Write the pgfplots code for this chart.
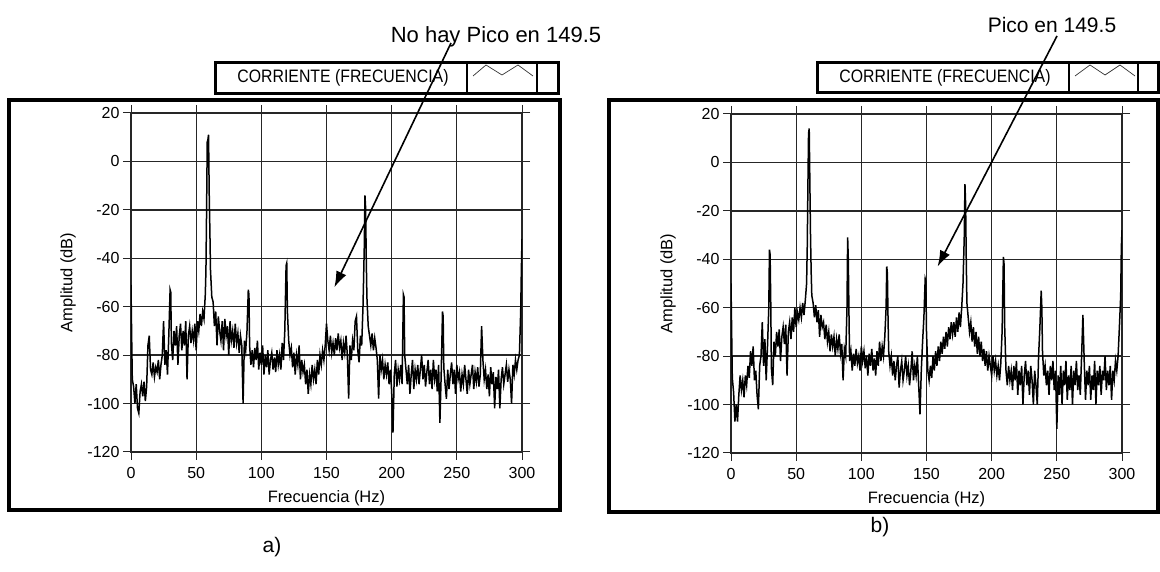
\documentclass[border=0pt]{standalone}
\usepackage{fontspec}
\setmainfont{Liberation Sans}
\newfontfamily\lvfont[FakeStretch=0.88]{Liberation Sans}
\usepackage{pgfplots}
\pgfplotsset{compat=1.18}
\usetikzlibrary{arrows.meta}

\pgfplotsset{
  lvspec/.style={
    scale only axis, width=391pt, height=339pt,
    anchor=south west,
    xmin=0, xmax=300, ymin=-120, ymax=20,
    xtick={0,50,...,300}, ytick={-120,-100,...,20},
    grid=major,
    major grid style={black!85, line width=1.3pt},
    axis line style={black!85, line width=1.3pt},
    tick align=outside, major tick length=8pt,
    tick style={black!85, line width=1pt},
    /pgf/number format/assume math mode=true,
    ticklabel style={font=\fontsize{16}{18}\selectfont},
    xticklabel style={yshift=-4pt},
    xlabel={Frecuencia (Hz)}, ylabel={Amplitud (dB)},
    every axis x label/.style={at={(axis description cs:0.5,-0.136)}, anchor=center,
      font=\fontsize{16.5}{18}\selectfont},
    every axis y label/.style={at={(axis description cs:-0.161,0.5)}, rotate=90, anchor=center,
      font=\fontsize{16.5}{18}\selectfont},
  },
  spec/.style={black, line width=1.5pt, sharp plot, mark=none},
}

\begin{document}
\begin{tikzpicture}
\path[use as bounding box] (0pt,0pt) rectangle (1160pt,572pt);

% ---------- panel a ----------
\draw[line width=3.5pt] (9pt,62pt) rectangle (560pt,472pt);
\begin{axis}[lvspec, at={(131pt,120pt)}]
\addplot[spec] coordinates {
(0,-51)(0.5,-72)(1,-90)(2,-93)(3,-100)(4,-92)(5,-102)(6,-104)(7,-95)(8,-92)(9,-97)
(10,-91)(11,-99)(12,-93)(13,-76)(14,-72)(15,-86)(16,-88)(17,-83)(18,-89)(19,-85)
(20,-87)(21,-82)(22,-90)(23,-84)(24,-80)(25,-66)(26,-84)(27,-78)(28,-88)(29,-72)
(30,-53)(30.5,-54)(31,-75)(32,-82)(33,-70)(34,-76)(35,-68)(36,-84)(37,-72)(38,-67)(39,-78)
(40,-70)(41,-76)(42,-66)(43,-90)(44,-72)(45,-68)(46,-75)(47,-70)(48,-74)(49,-67)
(50,-78)(51,-66)(52,-70)(53,-63)(54,-68)(55,-62)(56,-65)(57,-55)(57.5,-45)(58,-20)
(58.5,8)(59,9)(59.5,11)(60,-13)(60.5,-28)(61,-45)(62,-56)(63,-58)(64,-68)(65,-62)
(66,-76)(67,-64)(68,-70)(69,-74)(70,-66)(71,-78)(72,-65)(73,-72)(74,-68)(75,-80)
(76,-66)(77,-74)(78,-70)(79,-77)(80,-67)(81,-75)(82,-71)(83,-79)(84,-72)(85,-76)
(86,-100)(87,-74)(88,-78)(89,-70)(90,-53)(90.5,-55)(91,-76)(92,-84)(93,-78)(94,-85)
(95,-77)(96,-82)(97,-74)(98,-86)(99,-79)(100,-84)(101,-76)(102,-88)(103,-80)(104,-85)
(105,-78)(106,-88)(107,-82)(108,-79)(109,-86)(110,-81)(111,-87)(112,-78)(113,-84)(114,-80)
(115,-86)(116,-75)(117,-82)(118,-70)(119,-43)(119.5,-42)(120,-62)(121,-74)(122,-80)(123,-77)
(124,-85)(125,-79)(126,-88)(127,-80)(128,-84)(129,-76)(130,-90)(131,-82)(132,-87)(133,-84)
(134,-92)(135,-86)(136,-96)(137,-88)(138,-92)(139,-84)(140,-90)(141,-86)(142,-92)(143,-82)
(144,-88)(145,-80)(146,-84)(147,-78)(148,-82)(149,-76)(150,-67)(151,-74)(152,-78)(153,-72)
(154,-79)(155,-75)(156,-80)(157,-73)(158,-78)(159,-71)(160,-77)(161,-74)(162,-82)(163,-75)
(164,-79)(165,-72)(166,-80)(167,-98)(168,-76)(169,-82)(170,-74)(171,-78)(172,-66)(173,-64)
(174,-78)(175,-83)(176,-72)(177,-76)(178,-60)(179,-35)(179.5,-14)(180,-19)(180.5,-40)(181,-56)
(182,-68)(183,-72)(184,-76)(185,-71)(186,-78)(187,-73)(188,-77)(189,-82)(190,-98)(191,-80)
(192,-86)(193,-82)(194,-90)(195,-84)(196,-88)(197,-83)(198,-92)(199,-86)(200,-95)(201,-112)
(202,-88)(203,-82)(204,-93)(205,-86)(206,-90)(207,-84)(208,-92)(209,-55)(209.5,-56)(210,-80)
(211,-86)(212,-92)(213,-84)(214,-96)(215,-88)(216,-82)(217,-94)(218,-86)(219,-90)(220,-84)
(221,-92)(222,-86)(223,-80)(224,-90)(225,-84)(226,-93)(227,-87)(228,-82)(229,-92)(230,-86)
(231,-94)(232,-82)(233,-90)(234,-86)(235,-95)(236,-84)(237,-108)(238,-88)(239,-62)(239.5,-64)
(240,-85)(241,-92)(242,-98)(243,-86)(244,-94)(245,-88)(246,-83)(247,-92)(248,-86)(249,-96)
(250,-84)(251,-90)(252,-87)(253,-95)(254,-88)(255,-92)(256,-84)(257,-90)(258,-96)(259,-86)
(260,-92)(261,-88)(262,-84)(263,-94)(264,-87)(265,-91)(266,-85)(267,-93)(268,-88)(269,-68)
(270,-82)(271,-90)(272,-86)(273,-94)(274,-88)(275,-97)(276,-85)(277,-92)(278,-87)(279,-102)
(280,-89)(281,-94)(282,-86)(283,-102)(284,-90)(285,-85)(286,-92)(287,-88)(288,-84)(289,-91)
(290,-86)(291,-90)(292,-100)(293,-84)(294,-88)(295,-82)(296,-86)(297,-82)(298,-80)(299,-62)
(299.5,-45)(300,-32)
};
\coordinate (tipA) at (axis cs:156,-52);
\end{axis}

% legend a
\draw[line width=3pt] (215pt,478pt) rectangle (558pt,509pt);
\draw[line width=2pt] (467pt,478pt) -- (467pt,509pt);
\draw[line width=2pt] (537pt,478pt) -- (537pt,509pt);
\node at (343pt,494pt) {\lvfont\fontsize{18}{20}\selectfont CORRIENTE (FRECUENCIA)};
\draw[line width=0.7pt, black!80] (473pt,496pt) -- (486pt,507pt) -- (502pt,497pt) -- (518pt,507pt) -- (533pt,496pt);

% annotation a
\node at (496pt,535pt) {\fontsize{22}{24}\selectfont No hay Pico en 149.5};
\draw[line width=1.6pt, -{Latex[length=16pt,width=11pt]}] (451pt,529pt) -- (tipA);
\node at (272pt,25pt) {\fontsize{21}{24}\selectfont a)};

% ---------- panel b ----------
\draw[line width=3.5pt] (609pt,60pt) rectangle (1158pt,472pt);
\begin{axis}[lvspec, at={(731pt,119pt)}]
\addplot[spec] coordinates {
(0,-50)(0.5,-70)(1,-89)(2,-95)(3,-107)(4,-100)(5,-107)(6,-96)(7,-88)(8,-94)(9,-90)
(10,-97)(11,-88)(12,-92)(13,-84)(14,-89)(15,-78)(16,-84)(17,-76)(18,-90)(19,-86)
(20,-96)(21,-102)(22,-84)(23,-80)(24,-66)(25,-84)(26,-73)(27,-90)(28,-76)(29,-60)
(29.5,-36)(30,-38)(30.5,-58)(31,-85)(32,-92)(33,-74)(34,-80)(35,-70)(36,-76)(37,-69)
(38,-82)(39,-72)(40,-68)(41,-75)(42,-67)(43,-88)(44,-70)(45,-66)(46,-73)(47,-64)
(48,-70)(49,-60)(50,-68)(51,-62)(52,-65)(53,-60)(54,-64)(55,-58)(56,-63)(57,-57)
(58,-50)(58.5,-35)(59,-10)(59.5,12)(60,14)(60.5,-8)(61,-30)(61.5,-45)(62,-55)(63,-58)
(64,-64)(65,-59)(66,-66)(67,-61)(68,-72)(69,-63)(70,-68)(71,-66)(72,-73)(73,-67)
(74,-74)(75,-70)(76,-78)(77,-71)(78,-76)(79,-72)(80,-80)(81,-73)(82,-77)(83,-71)
(84,-79)(85,-75)(86,-90)(87,-77)(88,-80)(89,-60)(89.5,-31)(90,-40)(90.5,-62)(91,-82)
(92,-78)(93,-86)(94,-79)(95,-84)(96,-77)(97,-83)(98,-80)(99,-86)(100,-76)(101,-82)
(102,-78)(103,-85)(104,-80)(105,-88)(106,-79)(107,-84)(108,-77)(109,-86)(110,-81)(111,-88)
(112,-78)(113,-84)(114,-74)(115,-82)(116,-76)(117,-80)(118,-72)(119,-60)(119.5,-43)(120,-46)
(120.5,-65)(121,-78)(122,-84)(123,-80)(124,-88)(125,-82)(126,-90)(127,-84)(128,-80)(129,-93)
(130,-86)(131,-82)(132,-90)(133,-86)(134,-80)(135,-88)(136,-84)(137,-92)(138,-86)(139,-78)
(140,-90)(141,-84)(142,-88)(143,-80)(144,-92)(145,-104)(146,-86)(147,-74)(148,-64)(149,-48)
(149.5,-49)(150,-70)(151,-86)(152,-90)(153,-84)(154,-89)(155,-80)(156,-86)(157,-78)(158,-84)
(159,-76)(160,-82)(161,-74)(162,-79)(163,-72)(164,-77)(165,-70)(166,-76)(167,-68)(168,-73)
(169,-66)(170,-71)(171,-66)(172,-72)(173,-64)(174,-70)(175,-62)(176,-68)(177,-60)(178,-50)
(179,-30)(179.5,-9)(180,-17)(180.5,-40)(181,-58)(182,-64)(183,-70)(184,-66)(185,-74)(186,-68)
(187,-76)(188,-70)(189,-79)(190,-72)(191,-80)(192,-74)(193,-82)(194,-77)(195,-84)(196,-78)
(197,-86)(198,-80)(199,-84)(200,-88)(201,-80)(202,-86)(203,-82)(204,-88)(205,-84)(206,-90)
(207,-83)(208,-70)(209,-39)(209.5,-42)(210,-68)(211,-86)(212,-92)(213,-84)(214,-90)(215,-86)
(216,-94)(217,-84)(218,-90)(219,-82)(220,-96)(221,-86)(222,-92)(223,-84)(224,-100)(225,-88)
(226,-82)(227,-92)(228,-86)(229,-96)(230,-84)(231,-90)(232,-100)(233,-86)(234,-92)(235,-100)
(236,-80)(237,-68)(238,-53)(238.5,-60)(239,-78)(240,-88)(241,-84)(242,-92)(243,-86)(244,-96)
(245,-84)(246,-90)(247,-82)(248,-94)(249,-86)(250,-110)(251,-88)(252,-96)(253,-84)(254,-100)
(255,-86)(256,-92)(257,-82)(258,-98)(259,-88)(260,-94)(261,-84)(262,-100)(263,-86)(264,-92)
(265,-82)(266,-94)(267,-88)(268,-96)(269,-80)(270,-63)(271,-82)(272,-98)(273,-86)(274,-92)
(275,-84)(276,-98)(277,-88)(278,-94)(279,-82)(280,-100)(281,-86)(282,-92)(283,-84)(284,-96)
(285,-86)(286,-90)(287,-80)(288,-94)(289,-86)(290,-92)(291,-84)(292,-98)(293,-86)(294,-90)
(295,-82)(296,-86)(297,-80)(298,-68)(299,-55)(299.5,-35)(300,-28)
};
\coordinate (tipB) at (axis cs:158.5,-43);
\end{axis}

% legend b
\draw[line width=3pt] (817pt,479pt) rectangle (1158pt,509pt);
\draw[line width=2pt] (1069pt,479pt) -- (1069pt,509pt);
\draw[line width=2pt] (1138pt,479pt) -- (1138pt,509pt);
\node at (945pt,494pt) {\lvfont\fontsize{18}{20}\selectfont CORRIENTE (FRECUENCIA)};
\draw[line width=0.7pt, black!80] (1075pt,496pt) -- (1090pt,507pt) -- (1105pt,497pt) -- (1120pt,507pt) -- (1135pt,496pt);

% annotation b
\node at (1052pt,547pt) {\fontsize{21}{24}\selectfont Pico en 149.5};
\draw[line width=1.6pt, -{Latex[length=16pt,width=11pt]}] (1057pt,536pt) -- (tipB);
\node at (880pt,45pt) {\fontsize{21}{24}\selectfont b)};
\end{tikzpicture}
\end{document}
